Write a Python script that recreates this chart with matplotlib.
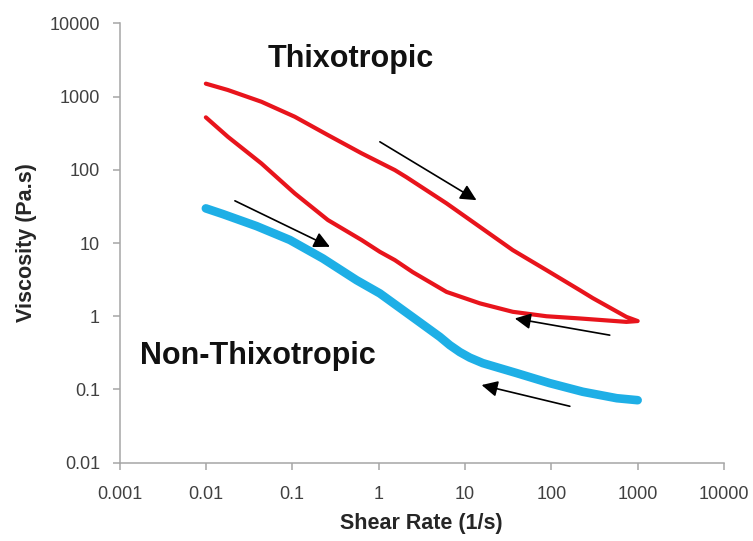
import matplotlib
matplotlib.use('Agg')
import matplotlib.pyplot as plt
from matplotlib.ticker import FixedLocator, FixedFormatter, NullLocator

plt.rcParams['font.family'] = ['Liberation Sans', 'DejaVu Sans']

# ---- data ----
x_ticks = [0.001, 0.01, 0.1, 1, 10, 100, 1000, 10000]
x_tick_labels = ['0.001', '0.01', '0.1', '1', '10', '100', '1000', '10000']
y_ticks = [0.01, 0.1, 1, 10, 100, 1000, 10000]
y_tick_labels = ['0.01', '0.1', '1', '10', '100', '1000', '10000']

# Thixotropic: increasing shear sweep
shear_up = [0.01, 0.018, 0.044, 0.107, 0.259, 0.635, 1.545, 2.11, 6.12, 14.9,
            35.8, 88, 214, 302, 741, 1000]
visc_up = [1500, 1228, 849, 530, 298, 168, 99, 79, 34.8, 16.6,
           8.0, 4.26, 2.27, 1.77, 0.98, 0.86]

# Thixotropic: decreasing shear sweep (from high to low shear)
shear_down = [741, 214, 88, 35.8, 14.9, 6.12, 2.49, 1.545, 1.035, 0.635,
              0.259, 0.107, 0.044, 0.018, 0.01]
visc_down = [0.838, 0.933, 1.0, 1.15, 1.50, 2.15, 4.0, 5.84, 7.58, 11.0,
             20.6, 47.6, 122, 282, 520]

# Non-thixotropic
shear_nt = [0.01, 0.0158, 0.0387, 0.094, 0.226, 0.556, 1.035, 2.77, 5.12, 6.68,
            8.73, 11.4, 16.1, 39.9, 96, 232, 573, 1000]
visc_nt = [29.7, 24.8, 17.0, 11.0, 6.16, 3.11, 2.05, 0.885, 0.523, 0.403,
           0.324, 0.272, 0.229, 0.167, 0.122, 0.093, 0.076, 0.0714]

# arrows: (start, end) in data coordinates
arrow_starts = [(1.035, 241), (0.0217, 37.7), (475, 0.552), (164, 0.059)]
arrow_ends = [(13.6, 38.5), (0.273, 8.87), (37.8, 0.933), (15.6, 0.115)]

RED = '#E8141C'
BLUE = '#1EAFE6'

fig = plt.figure(figsize=(7.53, 5.41), dpi=100)
ax = fig.add_axes([0.1587, 0.1447, 0.8028, 0.8122])

ax.plot(shear_nt, visc_nt, color=BLUE, lw=6.2, solid_capstyle='round',
        solid_joinstyle='round', zorder=2)
ax.plot(shear_up + shear_down, visc_up + visc_down, color=RED, lw=3.0,
        solid_capstyle='round', solid_joinstyle='round', zorder=3)

for s, e in zip(arrow_starts, arrow_ends):
    ax.annotate('', xy=e, xytext=s,
                arrowprops=dict(arrowstyle='-|>', color='black', lw=1.2,
                                mutation_scale=24, shrinkA=0, shrinkB=0),
                zorder=4)

ax.set_xscale('log')
ax.set_yscale('log')
ax.set_xlim(0.001, 10000)
ax.set_ylim(0.01, 10000)

ax.xaxis.set_major_locator(FixedLocator(x_ticks))
ax.xaxis.set_major_formatter(FixedFormatter(x_tick_labels))
ax.yaxis.set_major_locator(FixedLocator(y_ticks))
ax.yaxis.set_major_formatter(FixedFormatter(y_tick_labels))
ax.xaxis.set_minor_locator(NullLocator())
ax.yaxis.set_minor_locator(NullLocator())

for side in ['top', 'right']:
    ax.spines[side].set_visible(False)
for side in ['left', 'bottom']:
    ax.spines[side].set_color('#a6a6a6')
    ax.spines[side].set_linewidth(1.1)

ax.tick_params(axis='both', which='major', direction='out', length=5,
               width=1.1, color='#a6a6a6', labelsize=13, labelcolor='#404040')
ax.tick_params(axis='y', pad=9)
ax.tick_params(axis='x', pad=12)

ax.set_xlabel('Shear Rate (1/s)', fontsize=15.5, fontweight='bold', color='#262626')
ax.set_ylabel('Viscosity (Pa.s)', fontsize=15.5, fontweight='bold', color='#262626')
ax.xaxis.set_label_coords(0.4988, -0.114)
ax.yaxis.set_label_coords(-0.137, 0.5)

ax.text(0.2457, (462.7 - 67) / 439.4, 'Thixotropic', transform=ax.transAxes,
        fontsize=22, fontweight='bold', color='#111111', ha='left', va='baseline')
ax.text(0.0339, (462.7 - 363.5) / 439.4, 'Non-Thixotropic', transform=ax.transAxes,
        fontsize=22, fontweight='bold', color='#111111', ha='left', va='baseline')

fig.savefig('out.png', dpi=100)
